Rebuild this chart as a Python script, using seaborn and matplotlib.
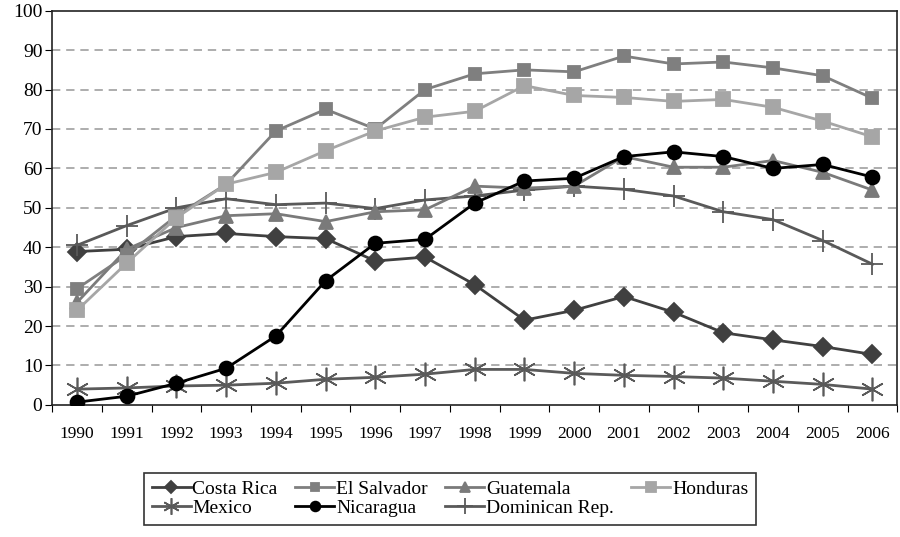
import seaborn as sns
import matplotlib.pyplot as plt
import pandas as pd
import numpy as np

years = list(range(1990, 2007))

costa_rica = [38.9, 39.5, 42.7, 43.5, 42.7, 42.2, 36.5, 37.5, 30.5, 21.5, 24.0, 27.5, 23.5, 18.3, 16.5, 14.8, 12.8]
el_salvador = [29.5, 38.0, 48.0, 56.0, 69.5, 75.0, 70.0, 80.0, 84.0, 85.0, 84.5, 88.5, 86.5, 87.0, 85.5, 83.5, 77.8]
guatemala = [26.0, 39.5, 45.0, 48.0, 48.5, 46.5, 49.0, 49.5, 55.5, 55.0, 55.5, 63.0, 60.3, 60.3, 62.0, 59.0, 54.5]
honduras = [24.0, 36.0, 47.5, 56.0, 59.0, 64.5, 69.5, 73.0, 74.5, 81.0, 78.5, 78.0, 77.0, 77.5, 75.5, 72.0, 68.0]
mexico = [4.0, 4.3, 4.8, 5.0, 5.5, 6.5, 7.0, 7.8, 9.0, 9.0, 8.0, 7.5, 7.2, 6.8, 6.0, 5.2, 4.0]
nicaragua = [0.7, 2.2, 5.5, 9.3, 17.5, 31.5, 41.0, 42.0, 51.2, 56.8, 57.5, 63.0, 64.2, 63.0, 60.0, 61.0, 57.8]
dominican = [40.5, 45.5, 50.0, 52.3, 50.8, 51.2, 49.8, 52.0, 53.0, 54.5, 55.5, 54.7, 53.0, 49.0, 47.0, 41.7, 35.7]

series = {
    "Costa Rica": costa_rica,
    "Mexico": mexico,
    "El Salvador": el_salvador,
    "Nicaragua": nicaragua,
    "Guatemala": guatemala,
    "Dominican Rep.": dominican,
    "Honduras": honduras,
}

# style per country: color, marker, marker size, marker edge width
styles = {
    "Costa Rica": ("#404040", "D", 9, 1.3),
    "Mexico": ("#5a5a5a", (6, 2, 0), 17, 1.2),
    "El Salvador": ("#7f7f7f", "s", 9, 1.3),
    "Nicaragua": ("#000000", "o", 10, 1.3),
    "Guatemala": ("#7a7a7a", "^", 10, 1.3),
    "Dominican Rep.": ("#595959", "+", 16, 1.3),
    "Honduras": ("#a6a6a6", "s", 10, 1.3),
}

# draw order (back to front)
draw_order = ["Mexico", "Costa Rica", "Dominican Rep.", "Guatemala", "El Salvador", "Honduras", "Nicaragua"]

plt.rcParams['font.family'] = ['Liberation Serif', 'DejaVu Serif']

fig = plt.figure(figsize=(9, 5.37), dpi=100)
ax = fig.add_axes([0.058, 0.246, 0.939, 0.734])

pos = np.arange(len(years))
for name in draw_order:
    color, marker, ms, mew = styles[name]
    df = pd.DataFrame({"x": pos, "y": series[name]})
    sns.lineplot(data=df, x="x", y="y", ax=ax, color=color, marker=marker,
                 markersize=ms, markeredgecolor=color, markerfacecolor=color,
                 markeredgewidth=mew, linewidth=2, label=name, zorder=3)

ax.set_xlim(-0.5, len(years) - 0.5)
ax.set_ylim(0, 100)
ax.set_yticks(range(0, 101, 10))
ax.set_xticks(np.arange(-0.5, len(years), 1.0))
ax.set_xticklabels([])
ax.set_xticks(pos, minor=True)
ax.set_xticklabels([str(y) for y in years], minor=True)
ax.tick_params(axis='x', which='minor', length=0, pad=15, labelsize=12.5)
ax.tick_params(axis='x', which='major', length=5, direction='out')
ax.tick_params(axis='y', length=5, direction='out', labelsize=14, pad=2)
for yv in range(10, 100, 10):
    ax.axhline(yv, color='#a0a0a0', linestyle=(0, (5, 3.5)), linewidth=1.2, zorder=1)
ax.set_xlabel('')
ax.set_ylabel('')
for s in ax.spines.values():
    s.set_color('#222222')
    s.set_linewidth(1.2)
ax.get_legend().remove()

handles, labels = ax.get_legend_handles_labels()
order = ["Costa Rica", "Mexico", "El Salvador", "Nicaragua", "Guatemala", "Dominican Rep.", "Honduras"]
hmap = dict(zip(labels, handles))
leg = fig.legend([hmap[n] for n in order], order, loc='lower center', bbox_to_anchor=(0.5, 0.005),
                 ncol=4, frameon=True, fancybox=False, edgecolor='black', fontsize=14,
                 handlelength=2.0, handletextpad=0.1, columnspacing=0.9, labelspacing=0.05,
                 borderpad=0.4, markerscale=0.7)
leg.get_frame().set_linewidth(1.2)

fig.savefig('out.png', dpi=100)
